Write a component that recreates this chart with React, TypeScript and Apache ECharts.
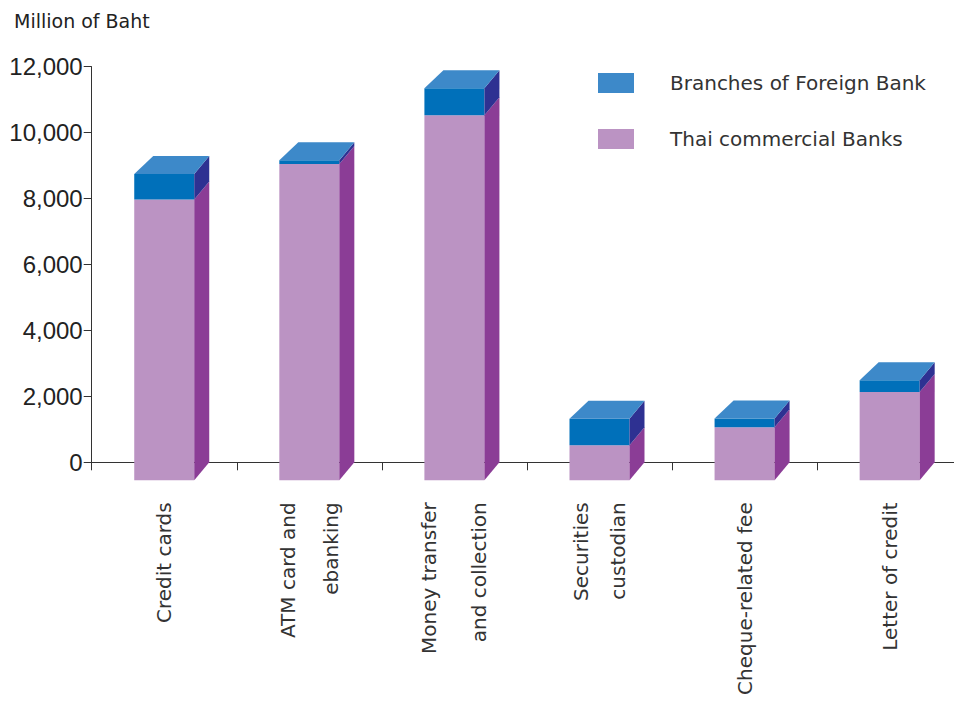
import React, { useEffect, useRef } from "react";
import * as echarts from "echarts";

const categories = [
  "Credit cards",
  "ATM card and\nebanking",
  "Money transfer\nand collection",
  "Securities\ncustodian",
  "Cheque-related fee",
  "Letter of credit",
];
const labelLineHeights = [20, 43, 50, 37, 20, 20];
const thaiBanks = [8520, 9595, 11070, 1060, 1608, 2678];
const foreignBranches = [770, 110, 820, 810, 264, 355];
const yTicks = { min: 0, max: 12000, interval: 2000 };

const DY = 18;
const DXL = 19;
const DXR = 15;

function makeRender(frontColor: string, sideColor: string, topColor: string, drawTop: boolean) {
  return (params: any, api: any) => {
    const cat = api.value(0);
    const base = api.value(1);
    const top = api.value(2);
    const pTop = api.coord([cat, top]);
    const pBase = api.coord([cat, base]);
    const bw = api.size([1, 0])[0];
    const w = bw * 0.4136;
    const xl = pTop[0] - w / 2;
    const xr = pTop[0] + w / 2;
    const yT = pTop[1] + DY;
    const yB = pBase[1] + DY;
    const children: any[] = [
      {
        type: "rect",
        shape: { x: xl, y: yT, width: w, height: yB - yT },
        style: { fill: frontColor },
      },
      {
        type: "polygon",
        shape: {
          points: [
            [xr, yT],
            [xr + DXR, yT - DY],
            [xr + DXR, yB - DY],
            [xr, yB],
          ],
        },
        style: { fill: sideColor },
      },
    ];
    if (drawTop) {
      children.push({
        type: "polygon",
        shape: {
          points: [
            [xl, yT],
            [xl + DXL, yT - DY],
            [xr + DXR, yT - DY],
            [xr, yT],
          ],
        },
        style: { fill: topColor },
      });
    }
    return { type: "group", children };
  };
}

export default function App() {
  const ref = useRef<HTMLDivElement>(null);
  useEffect(() => {
    if (!ref.current) return;
    const chart = echarts.init(ref.current, undefined, { renderer: "svg" });
    const thaiData = thaiBanks.map((v, i) => [i, 0, v]);
    const foreignData = foreignBranches.map((v, i) => [i, thaiBanks[i], thaiBanks[i] + v]);
    const axisColor = "#333333";
    chart.setOption({
      animation: false,
      backgroundColor: "#ffffff",
      title: {
        text: "Million of Baht",
        left: 9,
        top: 6,
        textStyle: {
          fontFamily: "DejaVu Sans",
          fontSize: 19,
          fontWeight: "normal",
          color: "#222222",
        },
      },
      legend: {
        orient: "vertical",
        left: 598,
        top: 73,
        padding: 0,
        itemWidth: 36,
        itemHeight: 20,
        itemGap: 36,
        icon: "rect",
        data: ["Branches of Foreign Bank", "Thai commercial Banks"],
        textStyle: {
          fontFamily: "DejaVu Sans",
          fontSize: 20,
          lineHeight: 20,
          color: "#333333",
          padding: [0, 0, 0, 31],
        },
      },
      grid: {
        left: 91.7,
        top: 66.7,
        height: 395.6,
        width: 870.5,
      },
      xAxis: {
        type: "category",
        data: categories.map((c, i) => ({
          value: c,
          textStyle: { lineHeight: labelLineHeights[i] },
        })),
        axisLine: { show: true, lineStyle: { color: axisColor, width: 1 } },
        axisTick: { show: true, length: 8, interval: 0, lineStyle: { color: axisColor } },
        axisLabel: {
          interval: 0,
          rotate: 90,
          margin: 40,
          fontFamily: "DejaVu Sans",
          fontSize: 20,
          color: "#333333",
        },
        splitLine: { show: false },
      },
      yAxis: {
        type: "value",
        min: yTicks.min,
        max: yTicks.max,
        interval: yTicks.interval,
        axisLine: { show: true, lineStyle: { color: axisColor, width: 1 } },
        axisTick: { show: true, length: 8, lineStyle: { color: axisColor } },
        axisLabel: {
          margin: 9,
          fontFamily: "Liberation Sans",
          fontSize: 24,
          color: "#222222",
          padding: [0, 0, 6, 0],
          formatter: (v: number) => v.toLocaleString("en-US"),
        },
        splitLine: { show: false },
      },
      series: [
        {
          name: "Thai commercial Banks",
          type: "custom",
          clip: false,
          itemStyle: { color: "#BB93C3" },
          encode: { x: 0, y: [1, 2] },
          renderItem: makeRender("#BB93C3", "#8B3D96", "#BB93C3", false),
          data: thaiData,
          z: 2,
        },
        {
          name: "Branches of Foreign Bank",
          type: "custom",
          clip: false,
          itemStyle: { color: "#3D89C9" },
          encode: { x: 0, y: [1, 2] },
          renderItem: makeRender("#0070BA", "#2E3192", "#3D89C9", true),
          data: foreignData,
          z: 3,
        },
      ],
    });
    return () => chart.dispose();
  }, []);
  return (
    <div
      style={{
        position: "fixed",
        left: 0,
        top: 0,
        width: 954,
        height: 704,
        overflow: "hidden",
        background: "#ffffff",
      }}
    >
      <div ref={ref} style={{ width: 975, height: 704 }} />
    </div>
  );
}
